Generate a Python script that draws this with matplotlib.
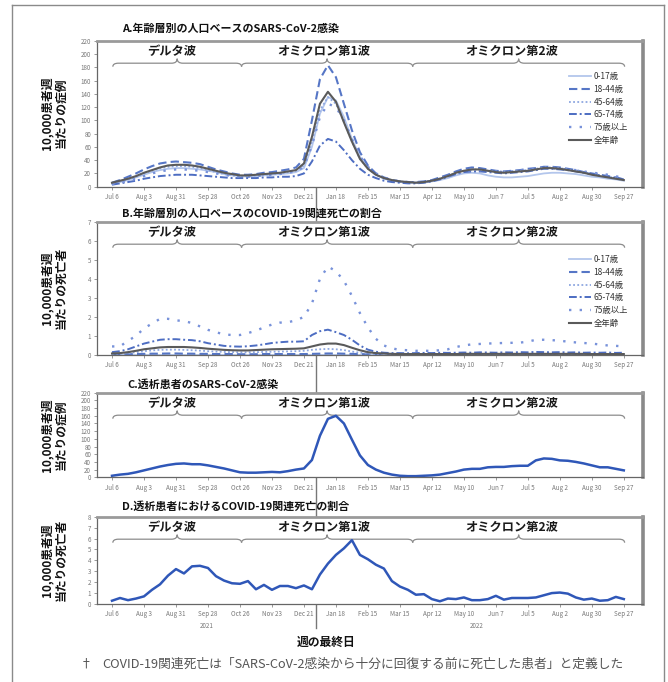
import matplotlib
matplotlib.use('Agg')
import matplotlib.pyplot as plt
from matplotlib.lines import Line2D
from matplotlib.path import Path
from matplotlib.patches import PathPatch
import matplotlib.transforms as mtransforms
import numpy as np

plt.rcParams['font.family'] = ['Noto Sans CJK JP', 'DejaVu Sans']

# ---------------- data ----------------
weeks = np.arange(65)  # weekly, week ending Jul 6 2021 ... Sep 27 2022
tick_weeks = list(range(0, 65, 4))
tick_labels = ['Jul 6', 'Aug 3', 'Aug 31', 'Sep 28', 'Oct 26', 'Nov 23', 'Dec 21',
               'Jan 18', 'Feb 15', 'Mar 15', 'Apr 12', 'May 10', 'Jun 7', 'Jul 5',
               'Aug 2', 'Aug 30', 'Sep 27']

age_labels = ['0-17歳', '18-44歳', '45-64歳', '65-74歳', '75歳以上', '全年齢']

A_0_17 = [4, 7, 10, 14, 18, 22, 25, 27, 28, 28,
          27, 26, 24, 22, 19, 17, 16, 15, 16, 17,
          18, 19, 20, 22, 28, 60, 110, 135, 130, 105,
          72, 45, 28, 18, 12, 9, 7, 6, 6, 6,
          8, 10, 13, 17, 20, 21, 20, 17, 15, 14,
          14, 15, 16, 18, 20, 21, 21, 20, 19, 17,
          15, 14, 12, 11, 9]
A_18_44 = [6, 10, 15, 20, 26, 31, 35, 37, 38, 37,
           36, 34, 30, 26, 23, 20, 18, 18, 19, 21,
           22, 24, 26, 29, 42, 100, 162, 183, 165, 125,
           85, 52, 32, 20, 14, 10, 8, 7, 7, 8,
           10, 14, 18, 23, 27, 29, 28, 26, 24, 23,
           24, 25, 27, 28, 30, 30, 29, 27, 25, 22,
           20, 18, 16, 14, 11]
A_45_64 = [5, 8, 11, 15, 20, 24, 28, 30, 31, 31,
           30, 28, 25, 22, 19, 17, 16, 16, 17, 18,
           19, 20, 22, 24, 32, 68, 115, 135, 125, 98,
           68, 42, 27, 18, 13, 10, 8, 7, 6, 7,
           9, 12, 16, 21, 24, 26, 26, 24, 23, 22,
           23, 24, 25, 27, 29, 29, 28, 26, 24, 22,
           19, 17, 15, 13, 10]
A_65_74 = [3, 5, 7, 9, 12, 14, 16, 17, 18, 18,
           18, 17, 16, 15, 14, 13, 13, 13, 13, 14,
           14, 15, 15, 16, 20, 38, 62, 72, 68, 55,
           40, 27, 18, 13, 9, 7, 6, 5, 5, 6,
           8, 11, 15, 19, 22, 23, 23, 22, 21, 20,
           21, 22, 23, 25, 27, 27, 26, 25, 23, 21,
           19, 17, 15, 13, 11]
A_75plus = [4, 6, 9, 12, 16, 20, 23, 25, 26, 26,
            25, 24, 22, 20, 18, 16, 15, 15, 16, 17,
            18, 19, 21, 23, 30, 62, 105, 125, 120, 100,
            72, 46, 30, 20, 14, 10, 8, 7, 6, 7,
            9, 12, 16, 20, 24, 25, 25, 24, 23, 22,
            23, 24, 25, 27, 28, 28, 27, 26, 25, 23,
            21, 20, 18, 16, 12]
A_all = [6, 9, 12, 16, 21, 25, 29, 32, 33, 33,
         32, 30, 27, 24, 21, 19, 17, 17, 18, 19,
         20, 21, 23, 25, 35, 75, 125, 143, 128, 97,
         68, 42, 27, 18, 13, 10, 8, 7, 6, 7,
         9, 12, 16, 21, 24, 26, 26, 24, 22, 21,
         22, 23, 24, 26, 28, 28, 27, 25, 23, 21,
         18, 16, 14, 12, 10]

B_0_17 = [0.01] * 65
B_18_44 = [0.03, 0.03, 0.04, 0.05, 0.06, 0.07, 0.07, 0.08, 0.08, 0.07,
           0.07, 0.06, 0.06, 0.05, 0.05, 0.05, 0.04, 0.04, 0.04, 0.05,
           0.05, 0.05, 0.05, 0.05, 0.05, 0.06, 0.07, 0.08, 0.08, 0.07,
           0.06, 0.05, 0.04, 0.03, 0.03, 0.03, 0.03, 0.03, 0.03, 0.03,
           0.03, 0.03, 0.03, 0.03, 0.03, 0.03, 0.03, 0.03, 0.03, 0.03,
           0.03, 0.03, 0.03, 0.03, 0.03, 0.03, 0.03, 0.03, 0.03, 0.03,
           0.03, 0.03, 0.03, 0.03, 0.03]
B_45_64 = [0.05, 0.07, 0.1, 0.15, 0.2, 0.24, 0.27, 0.28, 0.28, 0.27,
           0.25, 0.23, 0.2, 0.18, 0.16, 0.15, 0.14, 0.14, 0.15, 0.16,
           0.17, 0.18, 0.19, 0.2, 0.22, 0.27, 0.3, 0.32, 0.3, 0.26,
           0.18, 0.12, 0.08, 0.05, 0.04, 0.03, 0.03, 0.03, 0.03, 0.03,
           0.03, 0.03, 0.03, 0.04, 0.04, 0.04, 0.04, 0.04, 0.04, 0.04,
           0.04, 0.04, 0.04, 0.05, 0.05, 0.05, 0.05, 0.04, 0.04, 0.04,
           0.04, 0.04, 0.04, 0.04, 0.04]
B_65_74 = [0.15, 0.2, 0.3, 0.45, 0.6, 0.7, 0.8, 0.83, 0.83, 0.8,
           0.78, 0.72, 0.62, 0.55, 0.48, 0.45, 0.44, 0.46, 0.5, 0.56,
           0.63, 0.67, 0.7, 0.7, 0.72, 1.05, 1.25, 1.33, 1.2, 1.05,
           0.8, 0.5, 0.28, 0.17, 0.12, 0.1, 0.1, 0.09, 0.1, 0.11,
           0.1, 0.12, 0.11, 0.12, 0.13, 0.12, 0.14, 0.13, 0.12, 0.14,
           0.13, 0.15, 0.14, 0.16, 0.15, 0.14, 0.15, 0.13, 0.14, 0.12,
           0.13, 0.12, 0.13, 0.11, 0.12]
B_75plus = [0.45, 0.45, 0.75, 1.0, 1.4, 1.65, 1.9, 1.9, 1.82, 1.78,
            1.68, 1.5, 1.32, 1.2, 1.08, 1.05, 1.05, 1.15, 1.28, 1.45,
            1.6, 1.7, 1.72, 1.82, 2.0, 2.7, 4.0, 4.65, 4.4, 3.9,
            3.1, 2.2, 1.45, 0.85, 0.5, 0.35, 0.27, 0.25, 0.22, 0.22,
            0.22, 0.25, 0.3, 0.42, 0.5, 0.56, 0.58, 0.6, 0.62, 0.63,
            0.64, 0.65, 0.7, 0.8, 0.8, 0.78, 0.75, 0.7, 0.66, 0.63,
            0.6, 0.55, 0.5, 0.48, 0.45]
B_all = [0.08, 0.1, 0.15, 0.22, 0.3, 0.35, 0.4, 0.42, 0.42, 0.42,
         0.4, 0.37, 0.33, 0.3, 0.27, 0.25, 0.24, 0.24, 0.26, 0.28,
         0.3, 0.31, 0.32, 0.33, 0.35, 0.45, 0.55, 0.6, 0.6, 0.52,
         0.38, 0.25, 0.15, 0.1, 0.08, 0.06, 0.05, 0.05, 0.05, 0.05,
         0.05, 0.05, 0.05, 0.05, 0.06, 0.06, 0.06, 0.06, 0.06, 0.06,
         0.06, 0.06, 0.06, 0.06, 0.06, 0.06, 0.06, 0.06, 0.06, 0.06,
         0.05, 0.05, 0.05, 0.05, 0.05]

C_vals = [4, 7, 9, 13, 18, 23, 28, 32, 35, 36,
          34, 34, 31, 27, 23, 18, 13, 12, 12, 13,
          14, 13, 16, 20, 23, 45, 108, 152, 160, 140,
          98, 57, 32, 20, 12, 7, 4, 3, 3, 4,
          5, 7, 11, 15, 20, 22, 22, 26, 27, 27,
          29, 30, 30, 44, 49, 48, 44, 43, 40, 36,
          31, 26, 26, 22, 18]
D_vals = [0.3, 0.55, 0.35, 0.5, 0.7, 1.3, 1.8, 2.6, 3.2, 2.8,
          3.45, 3.5, 3.3, 2.55, 2.15, 1.9, 1.85, 2.1, 1.35, 1.75,
          1.3, 1.65, 1.65, 1.45, 1.7, 1.35, 2.7, 3.7, 4.5, 5.1,
          5.85, 4.5, 4.1, 3.6, 3.25, 2.1, 1.6, 1.3, 0.85, 0.9,
          0.45, 0.25, 0.5, 0.45, 0.6, 0.35, 0.35, 0.45, 0.75, 0.4,
          0.55, 0.55, 0.55, 0.6, 0.8, 1.0, 1.05, 0.95, 0.6, 0.4,
          0.5, 0.3, 0.35, 0.65, 0.45]

wave_names = ['デルタ波', 'オミクロン第1波', 'オミクロン第2波']
wave_bounds = [0.1, 16.2, 37.6, 64.1]
wave_label_x = [7.5, 26.5, 50.0]

# ---------------- layout ----------------
W, H = 668, 682
fig = plt.figure(figsize=(W / 100, H / 100), dpi=100)


def fx(px):
    return px / W


def fy(py):
    return 1 - py / H


def make_axes(top, bottom, left=97.3, right=643.0):
    return fig.add_axes([fx(left), fy(bottom), fx(right) - fx(left), (bottom - top) / H])


BLUE = '#2f57b8'
styles = [
    dict(color='#b3c6ec', lw=1.3, ls='-'),
    dict(color='#5676c6', lw=1.5, ls=(0, (4, 2))),
    dict(color='#8ea7e0', lw=1.3, ls=(0, (1, 1.3))),
    dict(color='#4d6dc2', lw=1.4, ls=(0, (4, 1.5, 1, 1.5))),
    dict(color='#7892da', lw=1.7, ls=(0, (1, 3.5))),
    dict(color='#5a5a5a', lw=1.5, ls='-'),
]


def style_axes(ax, ymax, ystep, height_px):
    ax.set_xlim(-1.84, 66.4)
    ax.set_ylim(0, ymax)
    ax.set_xticks(tick_weeks)
    ax.set_xticklabels(tick_labels)
    ax.set_yticks(np.arange(0, ymax + ystep / 2, ystep))
    ax.tick_params(axis='both', labelsize=4.5, labelcolor='#777777', color='#888888',
                   length=2.5, width=0.6, pad=2, direction='out')
    for s in ['left', 'bottom']:
        ax.spines[s].set_color('#666666')
        ax.spines[s].set_linewidth(0.9)
    ax.spines['top'].set_color('#9a9a9a')
    ax.spines['top'].set_linewidth(2.0)
    ax.spines['right'].set_color('#8a8a8a')
    ax.spines['right'].set_linewidth(2.6)
    ax.set_facecolor('white')
    # braces and wave labels
    trans = mtransforms.blended_transform_factory(ax.transData, ax.transAxes)
    base = 1 - 22.5 / height_px
    up = 4.5 / height_px
    down = 3.5 / height_px
    r = 0.7
    for i in range(3):
        x0, x1 = wave_bounds[i], wave_bounds[i + 1]
        xm = (x0 + x1) / 2
        verts = [(x0, base - down), (x0, base), (x0 + r, base),
                 (xm - r, base), (xm, base), (xm, base + up),
                 (xm, base), (xm + r, base),
                 (x1 - r, base), (x1, base), (x1, base - down)]
        codes = [Path.MOVETO, Path.CURVE3, Path.CURVE3,
                 Path.LINETO, Path.CURVE3, Path.CURVE3,
                 Path.CURVE3, Path.CURVE3,
                 Path.LINETO, Path.CURVE3, Path.CURVE3]
        ax.add_patch(PathPatch(Path(verts, codes), fill=False, edgecolor='#8c8c8c',
                               lw=0.9, transform=trans, clip_on=False))
        ax.text(wave_label_x[i], 1 - 11 / height_px, wave_names[i], transform=trans,
                ha='center', va='center', fontsize=8.8, fontweight='bold', color='#1a1a1a')


# Panel A
axA = make_axes(40.7, 186.7)
for vals, lab, st in zip([A_0_17, A_18_44, A_45_64, A_65_74, A_75plus, A_all], age_labels, styles):
    axA.plot(weeks, vals, label=lab, **st)
style_axes(axA, 220, 20, 146.0)
axA.legend(loc='upper left', bbox_to_anchor=(0.865, 0.785), frameon=False, fontsize=6,
           handlelength=2.6, handletextpad=0.3, labelspacing=0.45, borderpad=0,
           borderaxespad=0, labelcolor='#333333')

# Panel B
axB = make_axes(221.7, 355.0)
for vals, lab, st in zip([B_0_17, B_18_44, B_45_64, B_65_74, B_75plus, B_all], age_labels, styles):
    axB.plot(weeks, vals, label=lab, **st)
style_axes(axB, 7, 1, 133.3)
axB.legend(loc='upper left', bbox_to_anchor=(0.865, 0.75), frameon=False, fontsize=6,
           handlelength=2.6, handletextpad=0.3, labelspacing=0.45, borderpad=0,
           borderaxespad=0, labelcolor='#333333')

# Panel C
axC = make_axes(392.7, 477.3)
axC.plot(weeks, C_vals, color=BLUE, lw=1.8)
style_axes(axC, 220, 20, 84.6)

# Panel D
axD = make_axes(516.7, 604.0)
axD.plot(weeks, D_vals, color=BLUE, lw=1.8)
style_axes(axD, 8, 1, 87.3)

# Titles
title_kw = dict(fontsize=7.9, fontweight='bold', color='#111111', ha='left', va='center')
fig.text(fx(122), fy(29), 'A.年齢層別の人口ベースのSARS-CoV-2感染', **title_kw)
fig.text(fx(122), fy(214), 'B.年齢層別の人口ベースのCOVID-19関連死亡の割合', **title_kw)
fig.text(fx(127), fy(385), 'C.透析患者のSARS-CoV-2感染', **title_kw)
fig.text(fx(122), fy(507), 'D.透析患者におけるCOVID-19関連死亡の割合', **title_kw)

# Y labels
ylab_kw = dict(fontsize=8.5, fontweight='bold', color='#111111', rotation=90,
               ha='center', va='center', linespacing=1.15)
fig.text(fx(54), fy(113), '10,000患者週\n当たりの症例', **ylab_kw)
fig.text(fx(54), fy(288), '10,000患者週\n当たりの死亡者', **ylab_kw)
fig.text(fx(54), fy(435), '10,000患者週\n当たりの症例', **ylab_kw)
fig.text(fx(54), fy(560), '10,000患者週\n当たりの死亡者', **ylab_kw)

# Year labels and separator
fig.text(fx(207), fy(626), '2021', fontsize=4.5, color='#777777', ha='center', va='center')
fig.text(fx(477), fy(626), '2022', fontsize=4.5, color='#777777', ha='center', va='center')
fig.add_artist(Line2D([fx(316), fx(316)], [fy(186), fy(628)], color='#777777', lw=1.0,
                      zorder=-1))

# X label
fig.text(fx(326), fy(642), '週の最終日', fontsize=8.5, fontweight='bold', color='#111111',
         ha='center', va='center')

# Footnote
fig.text(fx(80), fy(664), '†', fontsize=9.2, color='#555555', ha='left', va='center')
fig.text(fx(102), fy(664), 'COVID-19関連死亡は「SARS-CoV-2感染から十分に回復する前に死亡した患者」と定義した',
         fontsize=9.2, color='#555555', ha='left', va='center')

# Outer frame (open at the bottom)
frame_kw = dict(color='#8a8a8a', lw=1.0)
fig.add_artist(Line2D([fx(12), fx(12)], [fy(682), fy(5)], **frame_kw))
fig.add_artist(Line2D([fx(12), fx(664)], [fy(5), fy(5)], **frame_kw))
fig.add_artist(Line2D([fx(664), fx(664)], [fy(5), fy(682)], **frame_kw))

fig.savefig('out.png', dpi=100)
